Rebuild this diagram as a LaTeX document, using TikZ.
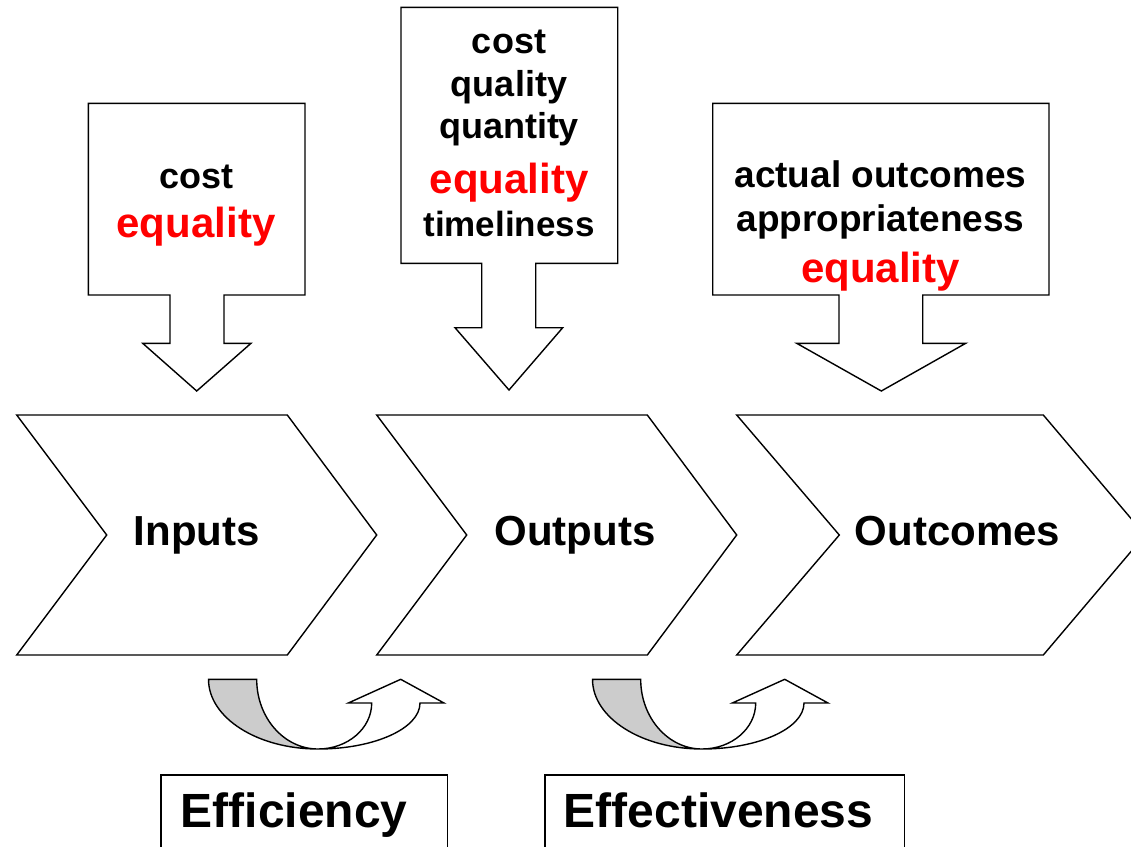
\documentclass[tikz,border=0pt]{standalone}
\usepackage{fontspec}
\setmainfont{Liberation Sans}
\definecolor{pptred}{RGB}{255,0,0}
\definecolor{bandgray}{RGB}{204,204,204}
\begin{document}
\begin{tikzpicture}[x=1pt,y=-1pt,line width=1.4pt,line join=miter,
  shp/.style={draw=black,fill=white},
  band/.style={draw=black,fill=bandgray},
  blk/.style={font=\fontsize{36}{36}\selectfont\bfseries,inner sep=0pt,anchor=base,text=black},
  redtxt/.style={font=\fontsize{42}{42}\selectfont\bfseries,inner sep=0pt,anchor=base,text=pptred},
  chevtxt/.style={font=\fontsize{42}{42}\selectfont\bfseries,inner sep=0pt,anchor=base},
  bigtxt/.style={font=\fontsize{48}{48}\selectfont\bfseries,inner sep=0pt,anchor=base west}]
\useasboundingbox (0,0) rectangle (1131,846);
\clip (0,0) rectangle (1131,846);
\fill[white] (0,0) rectangle (1131,846);

% callout boxes with down arrows
\draw[shp] (88.3,103.3) -- (305,103.3) -- (305,295) -- (224,295) -- (224,343.3) -- (251,343.3)
  -- (196.7,391) -- (142.7,343.3) -- (170,343.3) -- (170,295) -- (88.3,295) -- cycle;
\draw[shp] (401,7.3) -- (617.7,7.3) -- (617.7,263.3) -- (535.7,263.3) -- (535.7,327.7) -- (562.7,327.7)
  -- (509,390) -- (455,327.7) -- (481.7,327.7) -- (481.7,263.3) -- (401,263.3) -- cycle;
\draw[shp] (712.7,103.3) -- (1049,103.3) -- (1049,295) -- (922.7,295) -- (922.7,343.3) -- (965.7,343.3)
  -- (881.3,391) -- (796.7,343.3) -- (839,343.3) -- (839,295) -- (712.7,295) -- cycle;

\node[blk] (b1l1) at (196.7,188) {cost};
\node[redtxt] (b1l2) at (196,237) {equality};

\node[blk] (b2l1) at (509,53) {cost};
\node[blk] (b2l2) at (509,96.5) {quality};
\node[blk] (b2l3) at (509,138.5) {quantity};
\node[redtxt] (b2l4) at (509,193) {equality};
\node[blk,font=\fontsize{35}{35}\selectfont\bfseries] (b2l5) at (509,236) {timeliness};

\node[blk,font=\fontsize{37}{37}\selectfont\bfseries] (b3l1) at (880.5,187.5) {actual outcomes};
\node[blk,font=\fontsize{37}{37}\selectfont\bfseries] (b3l2) at (880.5,231.5) {appropriateness};
\node[redtxt] (b3l3) at (880.5,282.5) {equality};

% chevrons
\draw[shp] (16.7,415) -- (287.3,415) -- (376.7,535) -- (287.3,655) -- (16.7,655) -- (106.7,535) -- cycle;
\draw[shp] (376.7,415) -- (647.3,415) -- (736.7,535) -- (647.3,655) -- (376.7,655) -- (466.7,535) -- cycle;
\draw[shp] (736.7,415) -- (1043.3,415) -- (1145,535) -- (1043.3,655) -- (736.7,655) -- (839.3,535) -- cycle;

\node[chevtxt] (inputs) at (196.7,545) {Inputs};
\node[chevtxt] (outputs) at (575,545) {Outputs};
\node[chevtxt] (outcomes) at (957.5,545) {Outcomes};

% curved arrows
\foreach \dx/\nm in {0/a, 384/b} {
  \begin{scope}[xshift=\dx pt]
    \draw[shp] (318,749) arc[start angle=90,end angle=0,x radius=102,y radius=46]
      -- (444,703) -- (400.7,679.3) -- (348.3,703) -- (371.7,703)
      arc[start angle=0,end angle=90,x radius=53.7,y radius=46] -- cycle;
    \draw[band] (208.5,679.3) arc[start angle=180,end angle=90,x radius=109.5,y radius=69.7]
      arc[start angle=90,end angle=180,x radius=61.3,y radius=69.7] -- cycle;
  \end{scope}
}

% bottom boxes
\draw[shp] (161,775) rectangle (447.7,900);
\draw[shp] (545,775) rectangle (904.3,900);
\node[bigtxt] (eff) at (180,827.5) {Efficiency};
\node[bigtxt] (effv) at (563,827.5) {Effectiveness};
\end{tikzpicture}
\end{document}
